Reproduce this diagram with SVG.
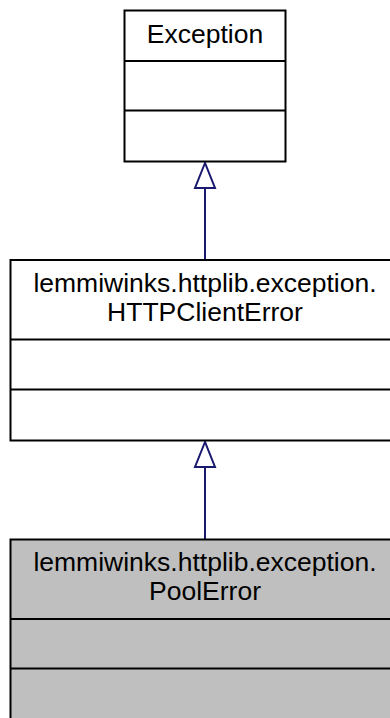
<svg xmlns="http://www.w3.org/2000/svg" width="390" height="718" viewBox="0 0 390 718">
<style>
.box{stroke:#000;stroke-width:2;fill:#fff}
.sel{fill:#bfbfbf}
.div{stroke:#000;stroke-width:2}
.t{font-family:"Liberation Sans",Arial,sans-serif;font-size:26.5px;text-anchor:middle;fill:#000}
.edge{stroke:#191970;stroke-width:2;fill:none}
.head{stroke:#191970;stroke-width:2;fill:#fff}
</style>
<rect width="390" height="718" fill="#fff"/>
<g id="connectors">
<line class="edge" x1="205" y1="188" x2="205" y2="260"/>
<polygon class="head" points="205,163 195,188 215,188"/>
<line class="edge" x1="205" y1="467" x2="205" y2="539"/>
<polygon class="head" points="205,442 195,467 215,467"/>
</g>
<g id="Exception">
<rect class="box" x="124.5" y="10.5" width="161" height="151"/>
<line class="div" x1="124.5" y1="61" x2="285.5" y2="61"/>
<line class="div" x1="124.5" y1="110.5" x2="285.5" y2="110.5"/>
<text class="t" x="205" y="43">Exception</text>
</g>
<g id="HTTPClientError">
<rect class="box" x="10.5" y="260" width="389" height="180.5"/>
<line class="div" x1="10.5" y1="339.5" x2="399.5" y2="339.5"/>
<line class="div" x1="10.5" y1="389.5" x2="399.5" y2="389.5"/>
<text class="t" x="205" y="292">lemmiwinks.httplib.exception.</text>
<text class="t" x="205" y="321">HTTPClientError</text>
</g>
<g id="PoolError">
<rect class="box sel" x="10.5" y="539.5" width="389" height="190"/>
<line class="div" x1="10.5" y1="619" x2="399.5" y2="619"/>
<line class="div" x1="10.5" y1="668.5" x2="399.5" y2="668.5"/>
<text class="t" x="205" y="571">lemmiwinks.httplib.exception.</text>
<text class="t" x="205" y="600">PoolError</text>
</g>
</svg>
